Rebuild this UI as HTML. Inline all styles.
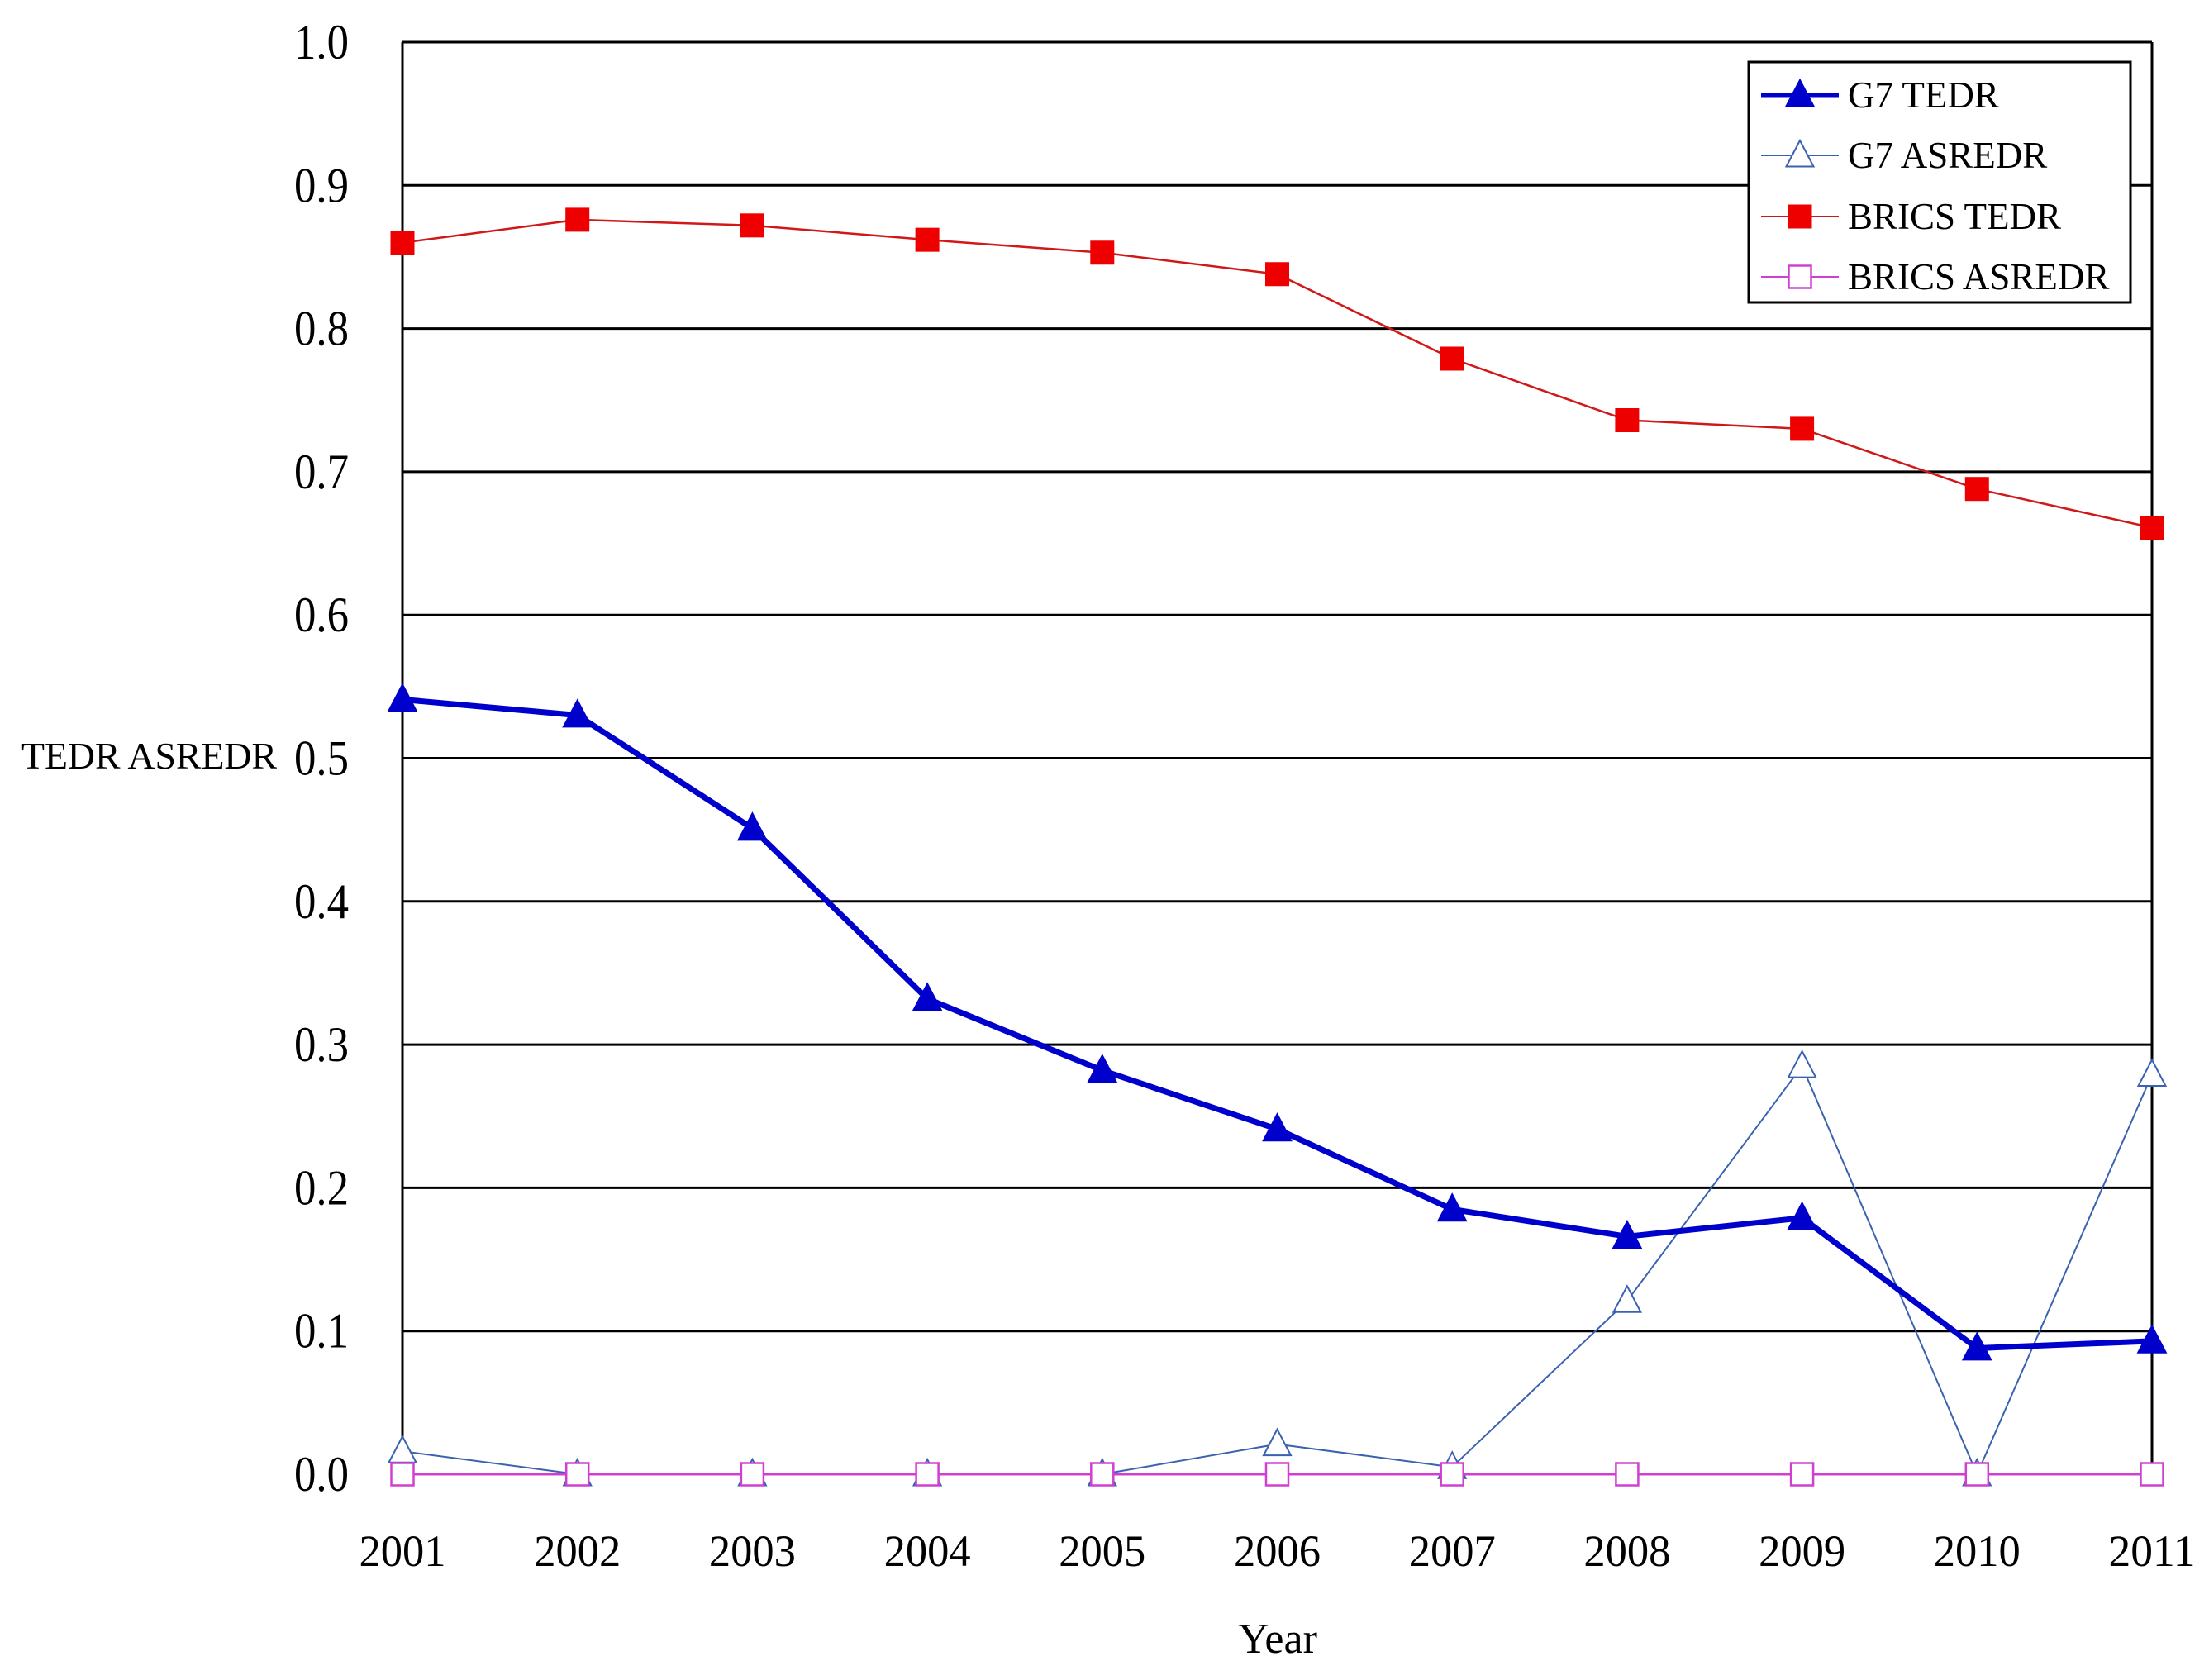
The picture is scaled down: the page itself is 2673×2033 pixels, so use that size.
<!DOCTYPE html>
<html><head><meta charset="utf-8"><style>
html,body{margin:0;padding:0;background:#fff;}
svg{display:block;font-family:"Liberation Serif",serif;}
</style></head><body>
<svg id="chart" width="2673" height="2033" viewBox="0 0 2673 2033" xmlns="http://www.w3.org/2000/svg">
<rect width="2673" height="2033" fill="#fff"/>
<g id="grid"></g>
<g id="axes"></g>
<g id="series"></g>
<text x="26" y="930" font-size="46" textLength="309" lengthAdjust="spacingAndGlyphs">TEDR ASREDR</text>
<text x="1546" y="2000" font-size="52" text-anchor="middle">Year</text>
<g id="legend">
<rect x="2116" y="75" width="462" height="291" fill="#fff" stroke="#000" stroke-width="3"/>
</g>
</svg>
<script>
const years = ["2001","2002","2003","2004","2005","2006","2007","2008","2009","2010","2011"];
const yTicks = ["0.0","0.1","0.2","0.3","0.4","0.5","0.6","0.7","0.8","0.9","1.0"];
const g7Tedr = [0.541,0.530,0.451,0.332,0.282,0.241,0.185,0.166,0.179,0.088,0.093];
const g7Asredr = [0.016,0,0,0,0,0.021,0.005,0.121,0.285,0,0.279];
const bricsTedr = [0.860,0.876,0.872,0.862,0.853,0.838,0.779,0.736,0.730,0.688,0.661];
const bricsAsredr = [0,0,0,0,0,0,0,0,0,0,0];
const seriesNames = ["G7 TEDR","G7 ASREDR","BRICS TEDR","BRICS ASREDR"];

const NS="http://www.w3.org/2000/svg";
const X0=487,X1=2604,Y0=1784,Y1=51;
function xs(i){return X0+(X1-X0)*i/(years.length-1);}
function ys(v){return Y0-(Y0-Y1)*v/1.0;}
function mk(tag,attrs,parent){const e=document.createElementNS(NS,tag);for(const k in attrs)e.setAttribute(k,attrs[k]);parent.appendChild(e);return e;}

const grid=document.getElementById('grid'),axes=document.getElementById('axes'),ser=document.getElementById('series'),leg=document.getElementById('legend');
yTicks.forEach((t,i)=>{
  const v=parseFloat(t),y=ys(v);
  const l=mk('line',{x1:X0,x2:X1,y1:y,y2:y,stroke:'#000','stroke-width':3},grid);
  
  
  const tx=mk('text',{x:422,y:y+20,'font-size':60,'text-anchor':'end',textLength:66,lengthAdjust:'spacingAndGlyphs'},axes);
  tx.textContent=t;
  
  
});
const la=mk('line',{x1:X0,x2:X0,y1:Y1,y2:Y0,stroke:'#000','stroke-width':3},axes);


const ra=mk('line',{x1:X1,x2:X1,y1:Y1,y2:Y0,stroke:'#000','stroke-width':3},axes);


years.forEach((yr,i)=>{
  const tx=mk('text',{x:xs(i),y:1895,'font-size':54,'text-anchor':'middle',textLength:105,lengthAdjust:'spacingAndGlyphs'},axes);
  tx.textContent=yr;
  
  
});

function marker(type,cx,cy,color,parent,s){
  let e;
  if(type==='tri'||type==='otri'){
    const h=s;
    e=mk('polygon',{points:`${cx},${cy-h*0.6} ${cx-h*0.55},${cy+h*0.45} ${cx+h*0.55},${cy+h*0.45}`,fill:type==='tri'?color:'#fff',stroke:color,'stroke-width':type==='tri'?1:2},parent);
  } else {
    e=mk('rect',{x:cx-s/2,y:cy-s/2,width:s,height:s,fill:type==='sq'?color:'#fff',stroke:color,'stroke-width':type==='sq'?1:2.5},parent);
  }
  return e;
}
const defs=[
  {vals:g7Asredr,color:'#3a62b0',w:2,m:'otri',s:30,name:'g7-asredr'},
  {vals:bricsAsredr,color:'#d040d0',w:3,m:'osq',s:27,name:'brics-asredr'},
  {vals:bricsTedr,color:'#d01818',w:2.5,m:'sq',s:28,name:'brics-tedr',mc:'#ee0000'},
  {vals:g7Tedr,color:'#0000cc',w:7,m:'tri',s:32,name:'g7-tedr'}
];
defs.forEach(d=>{
  const g=mk('g',{},ser);
  
  
  const pl=mk('polyline',{points:d.vals.map((v,i)=>xs(i)+','+ys(v)).join(' '),fill:'none',stroke:d.color,'stroke-width':d.w,'stroke-linejoin':'round'},g);
  
  
  d.vals.forEach((v,i)=>{
    const e=marker(d.m,xs(i),ys(v),d.mc||d.color,g,d.s);
    
    
  });
});
const legRows=[{d:defs[3],y:115},{d:defs[0],y:188},{d:defs[2],y:262},{d:defs[1],y:335}];
legRows.forEach((r,i)=>{
  const g=mk('g',{},leg);
  
  
  mk('line',{x1:2131,x2:2225,y1:r.y,y2:r.y,stroke:r.d.color,'stroke-width':r.d.w>4?5:2},g);
  marker(r.d.m,2178,r.y,r.d.mc||r.d.color,g,r.d.s);
  const t=mk('text',{x:2236,y:r.y+15,'font-size':45},g);
  t.textContent=seriesNames[i];
});
</script>
</body></html>
